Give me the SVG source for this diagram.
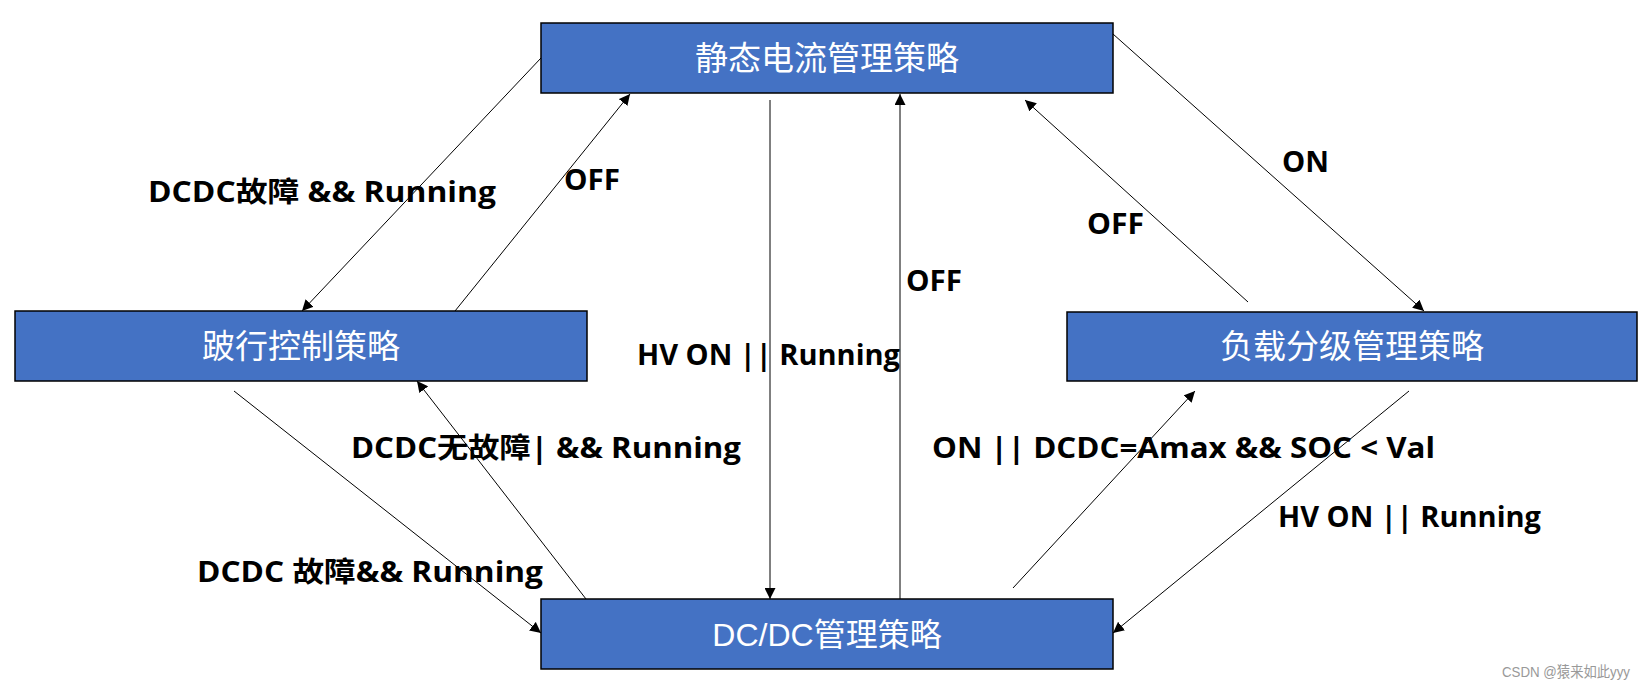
<svg xmlns="http://www.w3.org/2000/svg" width="1648" height="693" viewBox="0 0 1648 693">
<defs>
<style>
.box{fill:#4472C4;stroke:#000;stroke-width:1.5}
.bt{fill:#fff;font-family:"Noto Sans CJK SC","Noto Sans",sans-serif;font-size:33px;text-anchor:middle}
.bt2{fill:#fff;font-family:"Liberation Sans","Noto Sans CJK SC",sans-serif;font-size:32px;text-anchor:middle}
.lbl{fill:#000;font-family:"Open Sans","Noto Sans CJK SC",sans-serif;font-weight:bold;font-size:28px}
.c{stroke:#000;stroke-width:1;fill:none;marker-end:url(#ah)}
</style>
<marker id="ah" viewBox="0 0 10 10" refX="10" refY="5" markerWidth="11" markerHeight="11" markerUnits="userSpaceOnUse" orient="auto">
<path d="M0,0 L10,5 L0,10 Z" fill="#000"/>
</marker>
</defs>
<rect width="1648" height="693" fill="#fff"/>
<g id="connectors">
<line class="c" x1="541" y1="58" x2="302" y2="311"/>
<line class="c" x1="455" y1="311" x2="630" y2="94"/>
<line class="c" x1="770" y1="100" x2="770" y2="599"/>
<line class="c" x1="900" y1="599" x2="900" y2="94"/>
<line class="c" x1="1248" y1="302" x2="1025" y2="100"/>
<line class="c" x1="1113" y1="34" x2="1424" y2="311"/>
<line class="c" x1="1409" y1="391" x2="1113" y2="633"/>
<line class="c" x1="1013" y1="588" x2="1195" y2="391"/>
<line class="c" x1="234" y1="391" x2="541" y2="633"/>
<line class="c" x1="586" y1="599" x2="417" y2="381"/>
</g>
<g id="node-static">
<rect class="box" x="541" y="23" width="572" height="70"/>
<text class="bt" x="827" y="70">静态电流管理策略</text>
</g>
<g id="node-limp">
<rect class="box" x="15" y="311" width="572" height="70"/>
<text class="bt" x="301" y="358">跛行控制策略</text>
</g>
<g id="node-load">
<rect class="box" x="1067" y="312" width="570" height="69"/>
<text class="bt" x="1352" y="358">负载分级管理策略</text>
</g>
<g id="node-dcdc">
<rect class="box" x="541" y="599" width="572" height="70"/>
<text class="bt2" x="827" y="646">DC/DC管理策略</text>
</g>
<g id="labels">
<text class="lbl" x="148" y="202" textLength="348" lengthAdjust="spacingAndGlyphs">DCDC故障 &amp;&amp; Running</text>
<text class="lbl" x="564" y="190" textLength="56" lengthAdjust="spacingAndGlyphs">OFF</text>
<text class="lbl" x="637" y="365" textLength="263" lengthAdjust="spacingAndGlyphs">HV ON || Running</text>
<text class="lbl" x="906" y="291" textLength="56" lengthAdjust="spacingAndGlyphs">OFF</text>
<text class="lbl" x="1282" y="172" textLength="47" lengthAdjust="spacingAndGlyphs">ON</text>
<text class="lbl" x="1087" y="234" textLength="57" lengthAdjust="spacingAndGlyphs">OFF</text>
<text class="lbl" x="351" y="458" textLength="390" lengthAdjust="spacingAndGlyphs">DCDC无故障| &amp;&amp; Running</text>
<text class="lbl" x="932" y="458" textLength="503" lengthAdjust="spacingAndGlyphs">ON || DCDC=Amax &amp;&amp; SOC &lt; Val</text>
<text class="lbl" x="1278" y="527" textLength="263" lengthAdjust="spacingAndGlyphs">HV ON || Running</text>
<text class="lbl" x="197" y="582" textLength="346" lengthAdjust="spacingAndGlyphs">DCDC 故障&amp;&amp; Running</text>
</g>
<text x="1502" y="677" textLength="128" lengthAdjust="spacingAndGlyphs" style="fill:#999;font-family:'Liberation Sans','Noto Sans CJK SC',sans-serif;font-size:15px">CSDN @猿来如此yyy</text>
</svg>
